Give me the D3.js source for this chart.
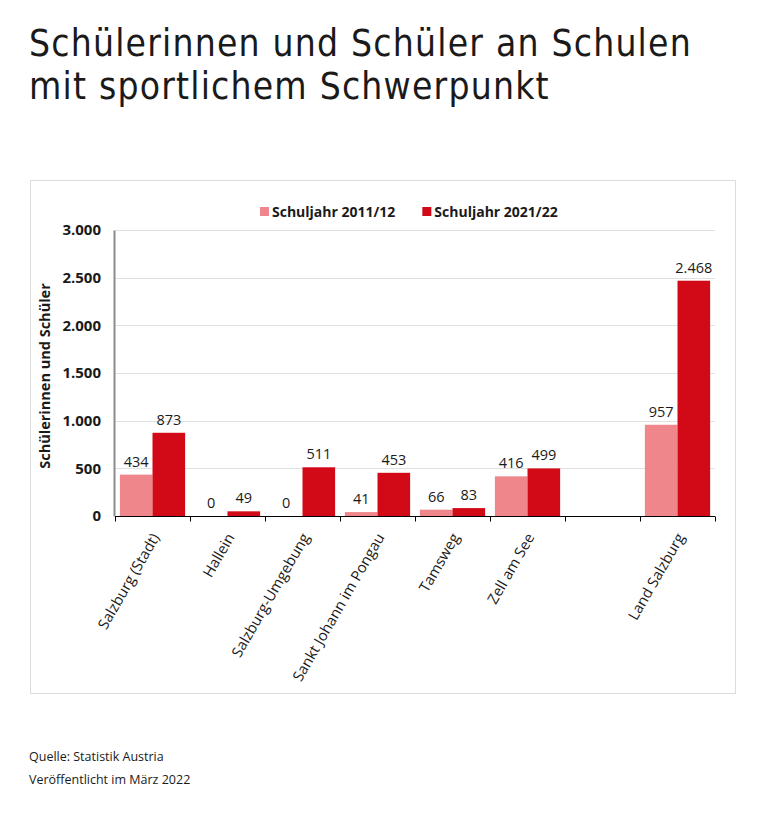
<!DOCTYPE html>
<html>
<head>
<meta charset="utf-8">
<script src="https://cdn.jsdelivr.net/npm/d3@7"></script>
<style>
  body { margin: 0; background: #fff; }
  text { font-family: "Open Sans", "DejaVu Sans", sans-serif; fill: #1a1a1a; }
  .title { font-family: "DejaVu Sans Condensed", "DejaVu Sans", sans-serif; }
</style>
</head>
<body>
<script>
const categories = ["Salzburg (Stadt)", "Hallein", "Salzburg-Umgebung", "Sankt Johann im Pongau", "Tamsweg", "Zell am See", "", "Land Salzburg"];
const seriesNames = ["Schuljahr 2011/12", "Schuljahr 2021/22"];
const values2011 = [434, 0, 0, 41, 66, 416, null, 957];
const values2021 = [873, 49, 511, 453, 83, 499, null, 2468];
const yTicks = [0, 500, 1000, 1500, 2000, 2500, 3000];
const colors = ["#ee868c", "#d20a17"];

const w = 778, h = 814;
const svg = d3.select("body").append("svg").attr("width", w).attr("height", h);

const de = d3.formatLocale({ decimal: ",", thousands: ".", grouping: [3], currency: ["", " €"] });
const fmt = de.format(",d");

// title (one text, two lines); letter spacing stretches line 1 to the original width
const titleLines = ["Schülerinnen und Schüler an Schulen", "mit sportlichem Schwerpunkt"];
const title = svg.append("text").attr("class", "title").attr("x", 29).attr("y", 56).style("font-size", "36.9px");
const spans = titleLines.map((t, i) => title.append("tspan").text(t)
  .attr("x", 29).attr("dy", i ? 43 : 0));
const gap = (663 - spans[0].node().getComputedTextLength()) / (titleLines[0].length - 1);
if (gap > 0) title.style("letter-spacing", Math.min(gap, 1.2) + "px");

// chart frame
svg.append("rect").attr("x", 30.5).attr("y", 180.5).attr("width", 705).attr("height", 513)
  .attr("fill", "none").attr("stroke", "#dcdcdc");

const pLeft = 115, pRight = 715, pTop = 230, pBottom = 516;
const x = d3.scaleBand().domain(d3.range(categories.length)).range([pLeft, pRight]).paddingInner(0.13).paddingOuter(0.065);
const xs = d3.scaleBand().domain([0, 1]).range([0, x.bandwidth()]);
const y = d3.scaleLinear().domain([0, 3000]).range([pBottom, pTop]);

// grid
svg.append("g").selectAll("line").data(yTicks.slice(1)).join("line")
  .attr("x1", pLeft).attr("x2", pRight)
  .attr("y1", d => Math.round(y(d)) + 0.5).attr("y2", d => Math.round(y(d)) + 0.5)
  .attr("stroke", "#e0e0e0");

// bars
const rows = categories.map((c, i) => ({ i, vals: [values2011[i], values2021[i]] }));
const groups = svg.append("g").selectAll("g").data(rows).join("g")
  .attr("transform", d => `translate(${x(d.i)},0)`);
groups.selectAll("rect").data(d => d.vals.map((v, k) => ({ v, k })).filter(e => e.v !== null)).join("rect")
  .attr("x", e => xs(e.k)).attr("width", xs.bandwidth())
  .attr("y", e => y(e.v)).attr("height", e => pBottom - y(e.v))
  .attr("fill", e => colors[e.k]);
groups.selectAll("text").data(d => d.vals.map((v, k) => ({ v, k })).filter(e => e.v !== null)).join("text")
  .attr("x", e => xs(e.k) + xs.bandwidth() / 2)
  .attr("y", e => y(e.v) - 8)
  .attr("text-anchor", "middle")
  .style("font-size", "14.5px")
  .text(e => fmt(e.v));

// y axis
const yAxis = svg.append("g").attr("transform", `translate(${pLeft - 1},0)`)
  .call(d3.axisLeft(y).tickValues(yTicks).tickFormat(fmt).tickSize(0).tickPadding(13));
yAxis.select(".domain").attr("stroke", "#8c8c8c").attr("stroke-width", 2);
yAxis.selectAll("text").style("font-size", "15px").style("font-weight", "bold").attr("fill", "#1a1a1a");

svg.append("text").text("Schülerinnen und Schüler")
  .attr("transform", `translate(50,${(pTop + pBottom) / 2 + 3}) rotate(-90)`)
  .attr("text-anchor", "middle")
  .style("font-size", "14.5px").style("font-weight", "bold");

// x axis
const xPos = d3.scaleLinear().domain([0, categories.length]).range([pLeft, pRight]);
const xAxis = svg.append("g").attr("transform", `translate(0,${pBottom + 0.5})`);
xAxis.append("line").attr("x1", pLeft).attr("x2", pRight).attr("stroke", "#000");
xAxis.selectAll(".tick").data(d3.range(categories.length + 1)).join("line")
  .attr("class", "tick")
  .attr("x1", d => Math.round(xPos(d)) + 0.5).attr("x2", d => Math.round(xPos(d)) + 0.5)
  .attr("y1", 0).attr("y2", 5).attr("stroke", "#000");
xAxis.selectAll(".lbl").data(categories).join("text")
  .attr("class", "lbl")
  .attr("transform", (d, i) => `translate(${x(i) + x.bandwidth() / 2 + 3},18) rotate(-60)`)
  .attr("text-anchor", "end")
  .attr("dy", "0.35em")
  .style("font-size", "14.8px")
  .text(d => d);

// legend
const legend = svg.append("g").attr("transform", "translate(260,212)");
let lx = 0;
seriesNames.forEach((s, k) => {
  legend.append("rect").attr("x", lx).attr("y", -5).attr("width", 9).attr("height", 9).attr("fill", colors[k]);
  const t = legend.append("text").text(s).attr("x", lx + 12).attr("y", 5)
    .style("font-size", "14px").style("font-weight", "bold");
  lx += 12 + t.node().getComputedTextLength() + 27;
});

// footer
svg.append("text").text("Quelle: Statistik Austria").attr("x", 29).attr("y", 761).style("font-size", "12.5px");
svg.append("text").text("Veröffentlicht im März 2022").attr("x", 29).attr("y", 784).style("font-size", "12.5px");
</script>
</body>
</html>
